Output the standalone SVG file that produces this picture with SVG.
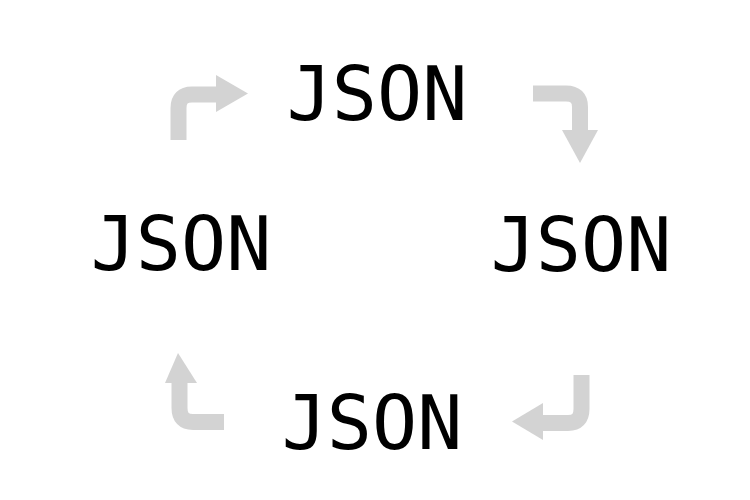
<svg xmlns="http://www.w3.org/2000/svg" width="750" height="500" viewBox="0 0 750 500">
<style>
.lbl{font-family:"DejaVu Sans Mono","Liberation Mono",monospace;font-size:75px;fill:#000;text-anchor:middle}
.shaft{fill:none;stroke:#d3d3d3;stroke-width:16}
.head{fill:#d3d3d3}
</style>
<rect width="750" height="500" fill="#fff"/>
<g id="connectors">
<path class="shaft" d="M178.5,140 V108 Q178.5,94.5 192,94.5 H217"/>
<polygon class="head" points="216,75 248,93.5 216,112"/>
<path class="shaft" d="M533,93.5 H566 Q580,93.5 580,107 V131"/>
<polygon class="head" points="562,130 598,130 580,163"/>
<path class="shaft" d="M581.5,375 V409 Q581.5,423 568,423 H542"/>
<polygon class="head" points="543,403 543,440 512,421.5"/>
<path class="shaft" d="M224,422 H193 Q179.5,422 179.5,408 V382"/>
<polygon class="head" points="165,383 197,383 178,353"/>
</g>
<g id="node-top"><text class="lbl" x="377" y="120">JSON</text></g>
<g id="node-right"><text class="lbl" x="581" y="271">JSON</text></g>
<g id="node-bottom"><text class="lbl" x="372" y="449">JSON</text></g>
<g id="node-left"><text class="lbl" x="181" y="270">JSON</text></g>
</svg>
